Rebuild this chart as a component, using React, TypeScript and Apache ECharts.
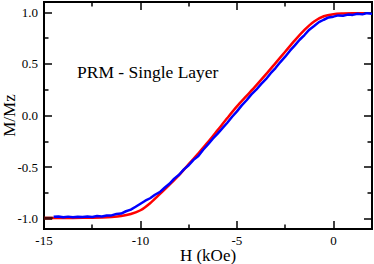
import React, { useEffect, useRef } from "react";
import * as echarts from "echarts";

const W = 374;
const H = 264;

// Red curve (smooth)
const redH = [-15, -14, -13, -12, -11.5, -11, -10.5, -10, -9.5, -9, -8.5, -8, -7.5, -7, -6.5, -6, -5.5, -5, -4.5, -4, -3.5, -3, -2.5, -2, -1.5, -1, -0.5, 0, 0.5, 1, 1.6];
const redM = [-0.993, -0.993, -0.992, -0.988, -0.984, -0.975, -0.955, -0.918, -0.85, -0.762, -0.672, -0.578, -0.472, -0.366, -0.258, -0.142, -0.025, 0.088, 0.19, 0.292, 0.398, 0.508, 0.618, 0.728, 0.83, 0.912, 0.962, 0.982, 0.988, 0.99, 0.99];

// Blue curve (noisy measurement)
const blueH = [-14.5, -14.25, -14, -13.75, -13.5, -13.25, -13, -12.75, -12.5, -12.25, -12, -11.75, -11.5, -11.25, -11, -10.75, -10.5, -10.25, -10, -9.75, -9.5, -9.25, -9, -8.75, -8.5, -8.25, -8, -7.75, -7.5, -7.25, -7, -6.75, -6.5, -6.25, -6, -5.75, -5.5, -5.25, -5, -4.75, -4.5, -4.25, -4, -3.75, -3.5, -3.25, -3, -2.75, -2.5, -2.25, -2, -1.75, -1.5, -1.25, -1, -0.75, -0.5, -0.25, 0, 0.25, 0.5, 0.75, 1, 1.25, 1.5, 1.75, 2];
const blueM = [-0.982, -0.978, -0.986, -0.98, -0.987, -0.981, -0.984, -0.978, -0.983, -0.975, -0.979, -0.97, -0.968, -0.955, -0.95, -0.928, -0.912, -0.884, -0.855, -0.826, -0.802, -0.768, -0.742, -0.7, -0.662, -0.612, -0.574, -0.522, -0.482, -0.43, -0.392, -0.332, -0.28, -0.225, -0.176, -0.122, -0.07, -0.012, 0.04, 0.098, 0.148, 0.205, 0.25, 0.304, 0.352, 0.41, 0.46, 0.518, 0.57, 0.628, 0.68, 0.734, 0.78, 0.832, 0.868, 0.905, 0.928, 0.95, 0.958, 0.97, 0.966, 0.978, 0.975, 0.986, 0.98, 0.992, 0.985];

// Short dark segment at the start
const darkH = [-15, -14.55];
const darkM = [-0.993, -0.993];

const xTicks = { min: -15, max: 0, interval: 5 };
const yTicks = { min: -1, max: 1, interval: 0.5 };
const xRange = { min: -15, max: 2 };
const yRange = { min: -1.1, max: 1.1 };

const FONT = "'Liberation Serif', serif";

export default function App() {
  const ref = useRef<HTMLDivElement>(null);
  useEffect(() => {
    document.body.style.margin = "0";
    const chart = echarts.init(ref.current!, null, { renderer: "svg" });

    const L = 44, R = 2, T = 2, B = 35;
    const pw = W - L - R;
    const ph = H - T - B;
    const xTickWidth = (pw * (xTicks.max - xTicks.min)) / (xRange.max - xRange.min);
    const yTickTop = T + (ph * (yRange.max - yTicks.max)) / (yRange.max - yRange.min);
    const yTickHeight = (ph * (yTicks.max - yTicks.min)) / (yRange.max - yRange.min);

    const tickStyle = { color: "#000", width: 1.5 };
    const majorTick = { show: true, inside: true, length: 8, lineStyle: tickStyle };
    const minorTick = { show: true, splitNumber: 2, length: 4.5, lineStyle: tickStyle };
    const labelStyle = { color: "#000", fontFamily: FONT, fontSize: 13 };

    const zip = (a: number[], b: number[]) => a.map((v, i) => [v, b[i]]);

    chart.setOption({
      animation: false,
      grid: [
        { left: L, right: R, top: T, bottom: B, show: true, borderColor: "#000", borderWidth: 2, backgroundColor: "transparent", outerBoundsMode: "none", containLabel: false },
        { left: L, top: T, bottom: B, width: xTickWidth, outerBoundsMode: "none", containLabel: false },
        { left: L, right: R, top: yTickTop, height: yTickHeight, outerBoundsMode: "none", containLabel: false },
      ],
      xAxis: [
        {
          gridIndex: 0, type: "value", min: xRange.min, max: xRange.max,
          axisLine: { show: false }, axisTick: { show: false }, axisLabel: { show: false }, splitLine: { show: false },
          name: "H (kOe)", nameLocation: "middle", nameGap: 17.5,
          nameTextStyle: { color: "#000", fontFamily: FONT, fontSize: 17 },
        },
        {
          gridIndex: 1, type: "value", position: "bottom", ...xTicks,
          axisLine: { show: false }, axisTick: majorTick, minorTick, splitLine: { show: false },
          axisLabel: { ...labelStyle, margin: 5 },
        },
        {
          gridIndex: 1, type: "value", position: "top", ...xTicks,
          axisLine: { show: false }, axisTick: majorTick, minorTick, splitLine: { show: false },
          axisLabel: { show: false },
        },
        { gridIndex: 2, type: "value", min: 0, max: 1, show: false },
      ],
      yAxis: [
        {
          gridIndex: 0, type: "value", min: yRange.min, max: yRange.max,
          axisLine: { show: false }, axisTick: { show: false }, axisLabel: { show: false }, splitLine: { show: false },
          name: "M/Mz", nameLocation: "middle", nameGap: 26,
          nameTextStyle: { color: "#000", fontFamily: FONT, fontSize: 17 },
        },
        { gridIndex: 1, type: "value", min: 0, max: 1, show: false },
        {
          gridIndex: 2, type: "value", position: "left", ...yTicks,
          axisLine: { show: false }, axisTick: majorTick, minorTick, splitLine: { show: false },
          axisLabel: { ...labelStyle, margin: 6, formatter: (v: number) => v.toFixed(1) },
        },
        {
          gridIndex: 2, type: "value", position: "right", ...yTicks,
          axisLine: { show: false }, axisTick: majorTick, minorTick, splitLine: { show: false },
          axisLabel: { show: false },
        },
      ],
      graphic: [
        {
          type: "text", left: 77, top: 63,
          style: { text: "PRM - Single Layer", fill: "#000", fontFamily: FONT, fontSize: 17.5 },
        },
      ],
      series: [
        {
          type: "line", xAxisIndex: 0, yAxisIndex: 0, data: zip(redH, redM),
          smooth: 0.3, showSymbol: false, lineStyle: { color: "#ff0000", width: 2.5 }, itemStyle: { color: "#ff0000" },
        },
        {
          type: "line", xAxisIndex: 0, yAxisIndex: 0, data: zip(blueH, blueM),
          showSymbol: false, lineStyle: { color: "#0000ff", width: 2.5 }, itemStyle: { color: "#0000ff" },
        },
        {
          type: "line", xAxisIndex: 0, yAxisIndex: 0, data: zip(darkH, darkM),
          showSymbol: false, lineStyle: { color: "#4a0808", width: 2.5 }, itemStyle: { color: "#4a0808" },
        },
      ],
    });
    return () => chart.dispose();
  }, []);
  return <div ref={ref} style={{ width: W, height: H }} />;
}
